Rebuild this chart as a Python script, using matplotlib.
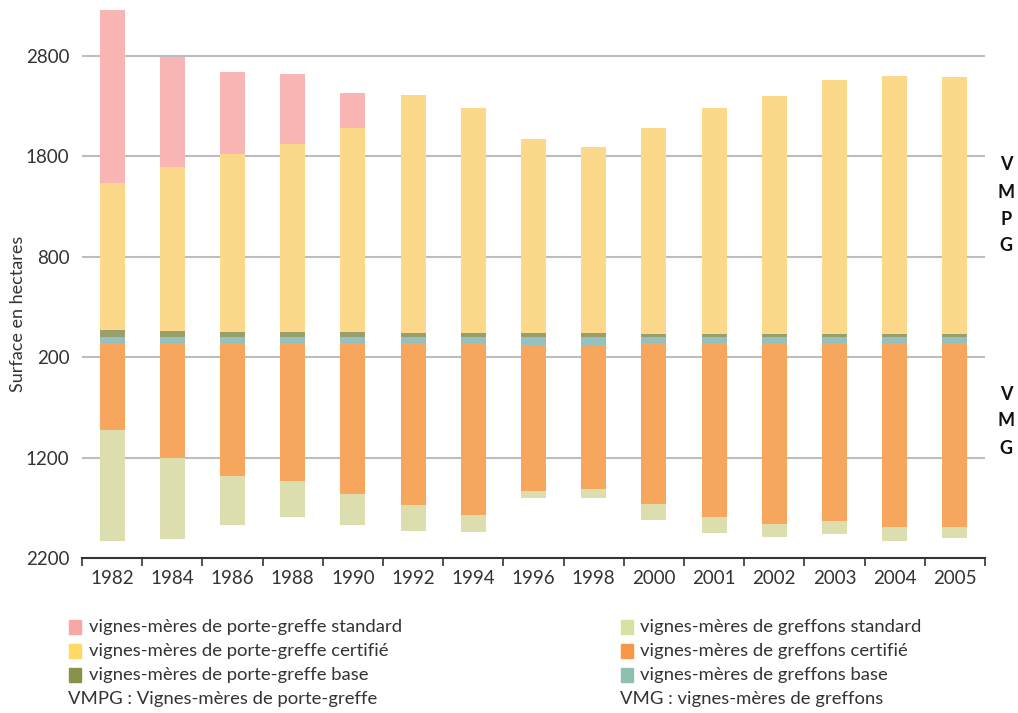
import matplotlib
matplotlib.use("Agg")
import matplotlib.pyplot as plt
from matplotlib.patches import Rectangle
import numpy as np

years = ['1982', '1984', '1986', '1988', '1990', '1992', '1994', '1996',
         '1998', '2000', '2001', '2002', '2003', '2004', '2005']

# VMPG (upwards)
pg_base = [73, 63, 53, 53, 53, 43, 43, 43, 43, 33, 33, 33, 33, 33, 33]
pg_cert = [1462, 1631, 1771, 1870, 2030, 2368, 2239, 1930, 1851, 2050, 2249, 2368, 2527, 2567, 2557]
pg_std = [1722, 1095, 816, 697, 348, 0, 0, 0, 0, 0, 0, 0, 0, 0, 0]

# VMG (downwards)
g_base = [64, 64, 64, 64, 57, 57, 64, 76, 76, 57, 64, 64, 64, 57, 57]
g_cert = [858, 1137, 1316, 1366, 1502, 1612, 1704, 1453, 1434, 1602, 1724, 1794, 1764, 1831, 1831]
g_std = [1112, 806, 488, 358, 309, 258, 169, 70, 89, 159, 159, 129, 129, 139, 109]

tick_vals = [2800, 1800, 800, -200, -1200, -2200]
tick_labels = ['2800', '1800', '800', '200', '1200', '2200']

labels_left = ['vignes-mères de porte-greffe standard',
               'vignes-mères de porte-greffe certifié',
               'vignes-mères de porte-greffe base']
labels_right = ['vignes-mères de greffons standard',
                'vignes-mères de greffons certifié',
                'vignes-mères de greffons base']

c_pg_std = '#F9B5B3'
c_pg_cert = '#FCD88A'
c_pg_base = '#9A9E68'
c_g_std = '#DCDEAD'
c_g_cert = '#F7A65E'
c_g_base = '#94C1BF'
leg_left_colors = ['#F9A7A6', '#FFD966', '#8A9148']
leg_right_colors = ['#D7E1A0', '#F79646', '#8FBFB1']

plt.rcParams['font.family'] = ['Lato', 'DejaVu Sans']

fig = plt.figure(figsize=(10.18, 7.13), dpi=100)
ax = fig.add_axes([82/1018, 1-558/713, (985-82)/1018, 558/713])

x = np.arange(len(years))
w = 0.415
pb = np.array(pg_base); pc = np.array(pg_cert); ps = np.array(pg_std)
gb = np.array(g_base); gc = np.array(g_cert); gs = np.array(g_std)

ax.bar(x, pb, w, color=c_pg_base, zorder=3)
ax.bar(x, pc, w, bottom=pb, color=c_pg_cert, zorder=3)
ax.bar(x, ps, w, bottom=pb+pc, color=c_pg_std, zorder=3)
ax.bar(x, -gb, w, color=c_g_base, zorder=3)
ax.bar(x, -gc, w, bottom=-gb, color=c_g_cert, zorder=3)
ax.bar(x, -gs, w, bottom=-gb-gc, color=c_g_std, zorder=3)

ax.set_xlim(-0.5, len(years)-0.5)
ax.set_ylim(-2200, 3356)

ax.set_yticks(tick_vals)
ax.set_yticklabels(tick_labels, fontsize=13.5, color='#333333')
ax.tick_params(axis='y', length=0, pad=9)
for v in tick_vals[:-1]:
    ax.axhline(v, color='#BDBDBD', lw=1.5, zorder=1)

ax.set_xticks(np.arange(-0.5, len(years), 1.0))
ax.set_xticklabels([])
ax.tick_params(axis='x', which='major', length=6, width=1.2, color='#333333', direction='out')
ax.set_xticks(x, minor=True)
ax.set_xticklabels(years, minor=True, fontsize=13.5, color='#333333')
ax.tick_params(axis='x', which='minor', length=0, pad=9)

for s in ['top', 'left', 'right']:
    ax.spines[s].set_visible(False)
ax.spines['bottom'].set_color('#333333')
ax.spines['bottom'].set_linewidth(1.5)

fig.text(18/1018, 1-314/713, 'Surface en hectares', rotation=90, ha='center', va='center',
         fontsize=13, color='#333333')

for i, ch in enumerate('VMPG'):
    fig.text(1006/1018, 1-(165+27*i)/713, ch, ha='center', va='center',
             fontsize=13, fontweight='bold', color='#111111')
for i, ch in enumerate('VMG'):
    fig.text(1006/1018, 1-(394+27*i)/713, ch, ha='center', va='center',
             fontsize=13, fontweight='bold', color='#111111')

rows = [627, 651, 675]
fs_leg = 13.3
for i, (lab, col) in enumerate(zip(labels_left, leg_left_colors)):
    y = rows[i]
    fig.patches.append(Rectangle((69/1018, 1-(y+7)/713), 12/1018, 14/713,
                                 transform=fig.transFigure, color=col))
    fig.text(89/1018, 1-y/713, lab, ha='left', va='center', fontsize=fs_leg, color='#333333')
for i, (lab, col) in enumerate(zip(labels_right, leg_right_colors)):
    y = rows[i]
    fig.patches.append(Rectangle((621/1018, 1-(y+7)/713), 12/1018, 14/713,
                                 transform=fig.transFigure, color=col))
    fig.text(640/1018, 1-y/713, lab, ha='left', va='center', fontsize=fs_leg, color='#333333')

fig.text(68/1018, 1-699/713, 'VMPG : Vignes-mères de porte-greffe', ha='left', va='center',
         fontsize=fs_leg, color='#333333')
fig.text(620/1018, 1-699/713, 'VMG : vignes-mères de greffons', ha='left', va='center',
         fontsize=fs_leg, color='#333333')

fig.savefig('out.png', dpi=100)
